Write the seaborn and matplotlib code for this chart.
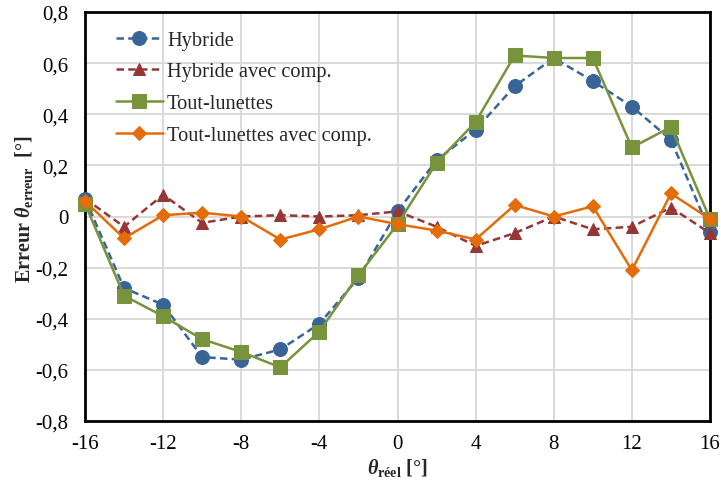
import matplotlib
matplotlib.use("Agg")
import matplotlib.pyplot as plt
import seaborn as sns
import pandas as pd
from matplotlib.ticker import FuncFormatter, MultipleLocator

theta = [-16, -14, -12, -10, -8, -6, -4, -2, 0, 2, 4, 6, 8, 10, 12, 14, 16]
hybride = [0.07, -0.28, -0.345, -0.55, -0.56, -0.52, -0.42, -0.24, 0.02, 0.22, 0.34, 0.51, 0.62, 0.53, 0.43, 0.30, -0.06]
hybride_comp = [0.07, -0.04, 0.085, -0.025, 0.0, 0.005, 0.0, 0.005, 0.02, -0.04, -0.115, -0.065, 0.0, -0.05, -0.04, 0.035, -0.065]
tout = [0.05, -0.31, -0.39, -0.48, -0.53, -0.59, -0.45, -0.23, -0.03, 0.21, 0.37, 0.63, 0.62, 0.62, 0.27, 0.35, -0.01]
tout_comp = [0.06, -0.085, 0.005, 0.015, 0.0, -0.09, -0.05, 0.0, -0.03, -0.055, -0.09, 0.045, 0.0, 0.04, -0.21, 0.09, -0.01]

names = ["Hybride", "Hybride avec comp.", "Tout-lunettes", "Tout-lunettes avec comp."]
colors = ["#386598", "#953735", "#77933C", "#E46C0A"]
markers = ["o", "^", "s", "D"]
msizes = [10, 9, 10, 7.5]
dashed = [True, True, False, False]

sns.set_theme(style="white")
plt.rcParams["font.family"] = ["Liberation Serif", "DejaVu Serif"]
plt.rcParams["mathtext.fontset"] = "custom"
plt.rcParams["mathtext.rm"] = "Liberation Serif"
plt.rcParams["mathtext.it"] = "Liberation Serif:italic:bold"
plt.rcParams["mathtext.bf"] = "Liberation Serif:bold"

fig = plt.figure(figsize=(7.21, 4.85), dpi=100)
L, R, T, B = 85 / 721, 710 / 721, 1 - 13 / 485, 1 - 422 / 485
ax = fig.add_axes([L, B, R - L, T - B])

series = [hybride, hybride_comp, tout, tout_comp]
for name, vals, c, m, ms, d in zip(names, series, colors, markers, msizes, dashed):
    df = pd.DataFrame({"x": theta, "y": vals})
    sns.lineplot(data=df, x="x", y="y", ax=ax, color=c, marker=m, markersize=ms,
                 markeredgecolor=c, linewidth=1.8, label=name,
                 linestyle=(0, (3, 1.7)) if d else "-", clip_on=False, zorder=3)

ax.set_xlim(-16, 16)
ax.set_ylim(-0.8, 0.8)
ax.xaxis.set_major_locator(MultipleLocator(4))
ax.yaxis.set_major_locator(MultipleLocator(0.2))

def yfmt(v, pos):
    if abs(v) < 1e-9:
        return "0"
    return f"{v:.1f}".replace(".", ",")

ax.yaxis.set_major_formatter(FuncFormatter(yfmt))
ax.xaxis.set_major_formatter(FuncFormatter(lambda v, p: f"{int(round(v))}"))

ax.grid(True, color="#D9D9D9", linewidth=1.4)
ax.set_axisbelow(True)
for s in ax.spines.values():
    s.set_color("black")
    s.set_linewidth(2)
ax.tick_params(axis="both", which="major", direction="inout", length=9, width=1.5,
               color="black", labelsize=15, labelcolor="black")
ax.tick_params(axis="y", pad=7.5)
ax.tick_params(axis="x", pad=5)

ax.set_xlabel(r"$\theta_{\mathbf{réel}}$ [°]", fontsize=14.5, fontweight="bold", labelpad=2)
ax.set_ylabel(r"Erreur $\theta_{\mathbf{erreur}}$  [°]", fontsize=14.5, fontweight="bold", labelpad=0.5)
ax.yaxis.label.set_position((0, 0.52))

leg = ax.legend(loc="upper left", bbox_to_anchor=(0.03, 0.985), frameon=False, fontsize=14.7,
                handlelength=2.3, handletextpad=0.2, labelspacing=0.61, borderaxespad=0.2)

fig.savefig("out.png", dpi=100)
